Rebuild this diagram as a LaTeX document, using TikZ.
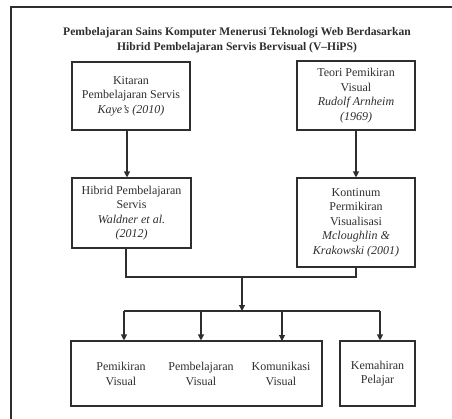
\documentclass[tikz,border=0pt]{standalone}
\usepackage{fontspec}
\setmainfont{Liberation Serif}
\usetikzlibrary{arrows.meta}
\definecolor{ink}{gray}{0.18}
\tikzset{
  box/.style={draw=ink, line width=1.1pt, rectangle, inner sep=0pt, align=center,
    font=\fontsize{12}{14.5}\selectfont, text=ink},
  txt/.style={align=center, inner sep=0pt, font=\fontsize{12}{14.5}\selectfont, text=ink},
  conn/.style={draw=ink, line width=1.1pt},
  arr/.style={conn, -{Triangle[length=6pt,width=6pt]}},
}
\begin{document}
\begin{tikzpicture}[x=1pt,y=-1pt]
\useasboundingbox (0,0) rectangle (452,418);
\draw[draw=ink, line width=1.5pt] (11,420) -- (11,7) -- (454,7);
\node[txt, font=\bfseries\fontsize{11.6}{15}\selectfont] (title) at (237,40)
  {Pembelajaran Sains Komputer Menerusi Teknologi Web Berdasarkan\\Hibrid Pembelajaran Servis Bervisual (V–HiPS)};
\node[box, minimum width=118pt, minimum height=68pt] (A) at (131,96)
  {Kitaran\\Pembelajaran Servis\\\textit{Kaye’s (2010)}};
\node[box, minimum width=118pt, minimum height=69pt] (B) at (356,95.5)
  {Teori Pemikiran\\Visual\\\textit{Rudolf Arnheim}\\\textit{(1969)}};
\node[box, minimum width=119pt, minimum height=70pt] (C) at (131.5,213)
  {Hibrid Pembelajaran\\Servis\\\textit{Waldner et al.}\\\textit{(2012)}};
\node[box, minimum width=118pt, minimum height=89pt] (D) at (356,222.5)
  {Kontinum\\Permikiran\\Visualisasi\\\textit{Mcloughlin \&}\\\textit{Krakowski (2001)}};
\node[box, minimum width=251pt, minimum height=65pt] (E) at (196.5,373.5) {};
\node[box, minimum width=75pt, minimum height=65pt] (F) at (377.5,373.5) {Kemahiran\\Pelajar};
\node[txt] (E1) at (121,374) {Pemikiran\\Visual};
\node[txt] (E2) at (201,374) {Pembelajaran\\Visual};
\node[txt] (E3) at (281,374) {Komunikasi\\Visual};
% connectors
\draw[arr] ([xshift=-4pt]A.south) -- ([xshift=-4pt]A.south |- C.north);
\draw[arr] (B.south) -- (D.north);
\coordinate (m) at (242,277);
\coordinate (d) at (242,311);
\draw[conn] ([xshift=-5.5pt]C.south) |- (m) -| (D.south);
\draw[arr] (m) -- (d);
\coordinate (d1) at (124,311);
\coordinate (d4) at (380,311);
\draw[conn] (d1) -- (d4);
\draw[arr] (d1) -- (d1 |- E.north);
\draw[arr] (E2 |- d) -- (E2 |- E.north);
\draw[arr] (282,311) -- (282,341);
\draw[arr] (d4) -- (d4 |- F.north);
\end{tikzpicture}
\end{document}
